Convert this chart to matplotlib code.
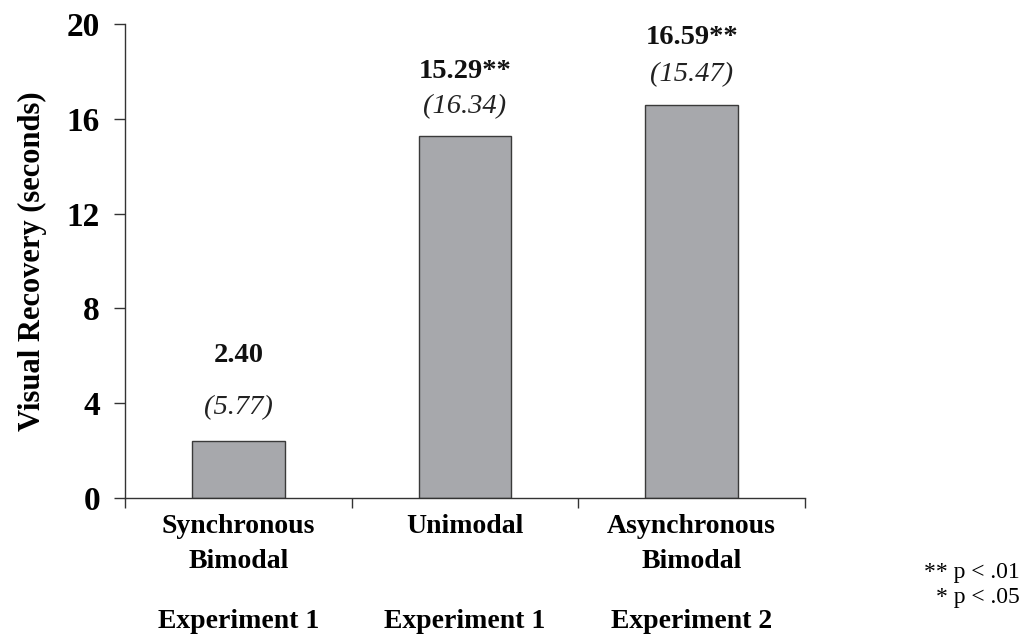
import matplotlib.pyplot as plt
from matplotlib.transforms import blended_transform_factory

plt.rcParams['font.family'] = ['Liberation Serif', 'DejaVu Serif']

conditions = ['Synchronous\nBimodal', 'Unimodal', 'Asynchronous\nBimodal']
experiments = ['Experiment 1', 'Experiment 1', 'Experiment 2']
means = [2.40, 15.29, 16.59]
sds = [5.77, 16.34, 15.47]
stars = ['', '**', '**']

# label offsets above each bar (pixels): sd line, mean line
sd_off = [33, 29, 30]
mean_off = [86, 64, 67]

fig = plt.figure(figsize=(10.29, 6.39), dpi=100)
ax = fig.add_axes([0.1215, 0.2207, 0.6608, 0.7417])

x = range(len(means))
ax.bar(x, means, width=0.41, color='#a7a8ac', edgecolor='#3a3a3a', linewidth=1.0)

for i, (m, s, st) in enumerate(zip(means, sds, stars)):
    ax.annotate(f'({s:.2f})', (i, m), xytext=(0, sd_off[i]), textcoords='offset pixels',
                ha='center', va='center', fontsize=20.5, style='italic', color='#222222')
    ax.annotate(f'{m:.2f}{st}', (i, m), xytext=(0, mean_off[i]), textcoords='offset pixels',
                ha='center', va='center', fontsize=20.5, fontweight='bold', color='#111111')

ax.set_xlim(-0.5, 2.5)
ax.set_ylim(0, 20)
ax.set_yticks([0, 4, 8, 12, 16, 20])
ax.set_yticklabels(['0', '4', '8', '12', '16', '20'], fontsize=24, fontweight='bold')
ax.set_xticks([])
ax.set_xticks([-0.5, 0.5, 1.5, 2.5], minor=True)
ax.tick_params(axis='x', which='minor', direction='out', length=7, width=1.0, color='#333333')
ax.tick_params(axis='y', direction='out', length=8, width=1.0, color='#333333', pad=10)
ax.set_ylabel('Visual Recovery (seconds)', fontsize=22, fontweight='bold', labelpad=14)

for sp in ['top', 'right']:
    ax.spines[sp].set_visible(False)
for sp in ['left', 'bottom']:
    ax.spines[sp].set_linewidth(1.0)
    ax.spines[sp].set_color('#333333')

tr = blended_transform_factory(ax.transData, fig.transFigure)
for i, (c, e) in enumerate(zip(conditions, experiments)):
    ax.text(i, 1 - 514 / 639, c, transform=tr, ha='center', va='top',
            fontsize=20, fontweight='bold', linespacing=1.5)
    ax.text(i, 1 - 622 / 639, e, transform=tr, ha='center', va='center',
            fontsize=20, fontweight='bold')

fig.text(1020 / 1029, 1 - 585 / 639, '** p < .01\n* p < .05', ha='right', va='center',
         fontsize=17, linespacing=1.25)

fig.savefig('out.png', dpi=100)
